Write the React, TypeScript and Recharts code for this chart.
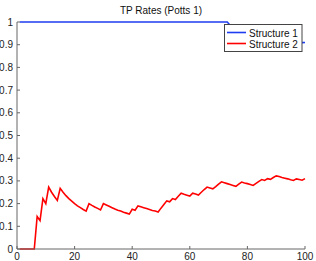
import React from "react";
import { LineChart, Line, XAxis, YAxis } from "recharts";

const title = "TP Rates (Potts 1)";
const seriesNames = ["Structure 1", "Structure 2"];
const seriesColors = ["#1f3df0", "#ff0000"];

const xTicks = [0, 20, 40, 60, 80, 100];
const yTicks = [0, 0.1, 0.2, 0.3, 0.4, 0.5, 0.6, 0.7, 0.8, 0.9, 1];

// n = 1..100
const structure1: number[] = [
  1, 1, 1, 1, 1, 1, 1, 1, 1, 1,
  1, 1, 1, 1, 1, 1, 1, 1, 1, 1,
  1, 1, 1, 1, 1, 1, 1, 1, 1, 1,
  1, 1, 1, 1, 1, 1, 1, 1, 1, 1,
  1, 1, 1, 1, 1, 1, 1, 1, 1, 1,
  1, 1, 1, 1, 1, 1, 1, 1, 1, 1,
  1, 1, 1, 1, 1, 1, 1, 1, 1, 1,
  1, 1, 1, 0.986, 0.973, 0.974, 0.961, 0.962, 0.962, 0.95,
  0.951, 0.939, 0.94, 0.94, 0.929, 0.93, 0.931, 0.92, 0.921, 0.922,
  0.923, 0.913, 0.914, 0.915, 0.916, 0.906, 0.907, 0.908, 0.909, 0.91,
];

const structure2: number[] = [
  0, 0, 0, 0, 0, 0, 0.143, 0.125, 0.222, 0.2,
  0.273, 0.25, 0.231, 0.214, 0.267, 0.25, 0.235, 0.222, 0.211, 0.2,
  0.19, 0.182, 0.174, 0.167, 0.2, 0.192, 0.185, 0.179, 0.172, 0.2,
  0.194, 0.188, 0.182, 0.176, 0.171, 0.167, 0.162, 0.158, 0.154, 0.175,
  0.171, 0.19, 0.186, 0.182, 0.178, 0.174, 0.17, 0.167, 0.163, 0.18,
  0.196, 0.212, 0.208, 0.222, 0.218, 0.232, 0.246, 0.241, 0.237, 0.233,
  0.246, 0.242, 0.238, 0.25, 0.262, 0.273, 0.269, 0.265, 0.275, 0.286,
  0.296, 0.292, 0.288, 0.284, 0.28, 0.276, 0.286, 0.295, 0.291, 0.288,
  0.284, 0.28, 0.289, 0.298, 0.306, 0.302, 0.31, 0.307, 0.315, 0.322,
  0.319, 0.315, 0.312, 0.309, 0.305, 0.302, 0.309, 0.306, 0.303, 0.31,
];

const data = structure2.map((v, i) => ({ n: i + 1, s1: structure1[i], s2: v }));

const W = 316;
const H = 261;
const M = { top: 22, right: 11, left: 0, bottom: 0 };
const YW = 17;
const XH = 12;
const PL = M.left + YW;
const PR = W - M.right;
const PT = M.top;
const PB = H - M.bottom - XH;
const TL = 3;
const AXIS = "#666";
const FONT = "'Liberation Sans', Arial, Helvetica, sans-serif";

const fmtY = (v: number) => (v === 0 ? "0" : v === 1 ? "1" : v.toFixed(1));

const LeftTick = (p: any) => (
  <g>
    <line x1={PL} x2={PL + TL} y1={p.y} y2={p.y} stroke={AXIS} />
    <text x={PL - 4} y={p.y} dy="0.35em" textAnchor="end" fontSize={10} fontFamily={FONT} fill="#222">
      {fmtY(p.payload.value)}
    </text>
  </g>
);
const RightTick = (p: any) => (
  <line x1={PR} x2={PR - TL} y1={p.y} y2={p.y} stroke={AXIS} />
);
const BottomTick = (p: any) => (
  <g>
    <line x1={p.x} x2={p.x} y1={PB} y2={PB - TL} stroke={AXIS} />
    <text x={p.x} y={PB + 11} textAnchor="middle" fontSize={10} fontFamily={FONT} fill="#222">
      {p.payload.value}
    </text>
  </g>
);
const TopTick = (p: any) => (
  <line x1={p.x} x2={p.x} y1={PT} y2={PT + TL} stroke={AXIS} />
);

export default function App() {
  return (
    <div style={{ position: "absolute", left: 0, top: 0, width: W, height: H, background: "#fff" }}>
      <LineChart width={W} height={H} data={data} margin={M}>
        <XAxis xAxisId="b" dataKey="n" type="number" domain={[0, 100]} ticks={xTicks} orientation="bottom"
          height={XH} tickLine={false} tickSize={0} axisLine={{ stroke: AXIS }} tick={BottomTick} interval={0} />
        <XAxis xAxisId="t" dataKey="n" type="number" domain={[0, 100]} ticks={xTicks} orientation="top"
          height={0} tickLine={false} tickSize={0} axisLine={{ stroke: AXIS }} tick={TopTick} interval={0} />
        <YAxis yAxisId="l" type="number" domain={[0, 1]} ticks={yTicks} orientation="left"
          width={YW} tickLine={false} tickSize={0} axisLine={{ stroke: AXIS }} tick={LeftTick} interval={0} />
        <YAxis yAxisId="r" type="number" domain={[0, 1]} ticks={yTicks} orientation="right"
          width={0} tickLine={false} tickSize={0} axisLine={{ stroke: AXIS }} tick={RightTick} interval={0} />
        <Line xAxisId="b" yAxisId="l" dataKey="s1" name={seriesNames[0]} stroke={seriesColors[0]} strokeWidth={1.6}
          dot={false} isAnimationActive={false} type="linear" />
        <Line xAxisId="b" yAxisId="l" dataKey="s2" name={seriesNames[1]} stroke={seriesColors[1]} strokeWidth={1.6}
          dot={false} isAnimationActive={false} type="linear" />
      </LineChart>
      <svg width={W} height={H} style={{ position: "absolute", left: 0, top: 0, pointerEvents: "none" }}>
        <text x={161} y={14} textAnchor="middle" fontSize={10} fontFamily={FONT} fill="#111">{title}</text>
        <rect x={224.5} y={24.5} width={77.5} height={27} fill="#fff" stroke="#444" />
        {seriesNames.map((name, i) => (
          <g key={name}>
            <line x1={227} x2={246} y1={32.5 + i * 11} y2={32.5 + i * 11} stroke={seriesColors[i]} strokeWidth={1.6} />
            <text x={249} y={36.6 + i * 11} fontSize={10} fontFamily={FONT} fill="#111">{name}</text>
          </g>
        ))}
      </svg>
    </div>
  );
}
